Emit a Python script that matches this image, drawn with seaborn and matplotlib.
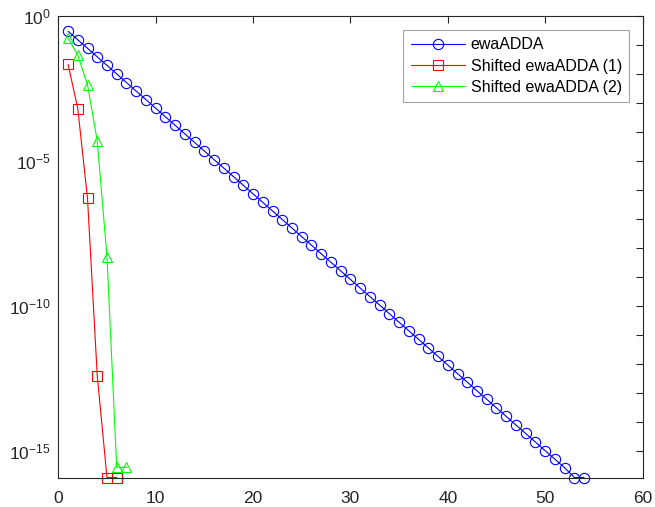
import matplotlib
matplotlib.use("Agg")
import matplotlib.pyplot as plt
import seaborn as sns
import numpy as np
from matplotlib.ticker import FixedLocator, FuncFormatter, NullFormatter

sns.set_theme(style="white")
plt.rcParams['font.family'] = ['Liberation Sans', 'DejaVu Sans']
plt.rcParams['mathtext.fontset'] = 'custom'
plt.rcParams['mathtext.rm'] = 'Liberation Sans'
plt.rcParams['mathtext.it'] = 'Liberation Sans'

# ---- data ----
iters_blue = list(range(1, 55))
err_blue = [2.88e-1, 1.46e-1, 7.41e-2, 3.76e-2, 1.91e-2, 9.66e-3, 4.90e-3, 2.48e-3,
            1.26e-3, 6.38e-4, 3.24e-4, 1.64e-4, 8.32e-5, 4.22e-5, 2.14e-5, 1.08e-5,
            5.50e-6, 2.79e-6, 1.41e-6, 7.16e-7, 3.63e-7, 1.84e-7, 9.33e-8, 4.73e-8,
            2.40e-8, 1.22e-8, 6.17e-9, 3.13e-9, 1.58e-9, 8.04e-10, 4.07e-10, 2.07e-10,
            1.05e-10, 5.31e-11, 2.69e-11, 1.36e-11, 6.92e-12, 3.51e-12, 1.78e-12,
            9.02e-13, 4.57e-13, 2.32e-13, 1.17e-13, 5.96e-14, 3.02e-14, 1.53e-14,
            7.76e-15, 3.94e-15, 2.00e-15, 1.01e-15, 5.13e-16, 2.60e-16, 1.2e-16, 1.2e-16]
iters_red = [1, 2, 3, 4, 5, 6]
err_red = [2.1e-2, 6.2e-4, 5.0e-7, 3.9e-13, 1.2e-16, 1.2e-16]
iters_green = [1, 2, 3, 4, 5, 6, 7]
err_green = [1.66e-1, 4.3e-2, 4.1e-3, 4.8e-5, 4.9e-9, 2.7e-16, 2.7e-16]

labels = ["ewaADDA", "Shifted ewaADDA (1)", "Shifted ewaADDA (2)"]
x_ticks = [0, 10, 20, 30, 40, 50, 60]
y_ticks = [1e-15, 1e-10, 1e-5, 1e0]

fig = plt.figure(figsize=(6.55, 5.07), dpi=100)
ax = fig.add_axes([58.3/655, 1-477.5/507, (642.5-58.3)/655, (477.5-15.5)/507])

series = [
    (iters_blue, err_blue, (0, 0, 1), 'o', 7.4),
    (iters_red, err_red, (1, 0, 0), 's', 6.5),
    (iters_green, err_green, (0, 1, 0), '^', 7.8),
]
for (xs, ys, col, mk, ms), lab in zip(series, labels):
    sns.lineplot(x=xs, y=ys, ax=ax, color=col, marker=mk, markersize=ms,
                 markerfacecolor='none', markeredgecolor=col, markeredgewidth=0.8,
                 linewidth=0.8, label=lab, clip_on=False, sort=False, estimator=None)

ax.set_yscale('log')
ax.set_xlim(0, 60)
ax.set_ylim(1.2e-16, 1.0)
ax.xaxis.set_major_locator(FixedLocator(x_ticks))
ax.yaxis.set_major_locator(FixedLocator(y_ticks))
ax.yaxis.set_minor_locator(FixedLocator([10.0**(-k) for k in range(0, 17)]))
ax.yaxis.set_minor_formatter(NullFormatter())

def yfmt(v, pos):
    e = int(round(np.log10(v)))
    return r'$\mathregular{10^{%d}}$' % e
ax.yaxis.set_major_formatter(FuncFormatter(yfmt))

tickc = '#262626'
for s in ax.spines.values():
    s.set_visible(True)
    s.set_color(tickc)
    s.set_linewidth(0.8)
ax.tick_params(axis='both', which='both', direction='in', top=True, right=True,
               color=tickc, labelcolor=tickc, width=0.8)
ax.tick_params(axis='x', labelsize=12.5, pad=10)
ax.tick_params(axis='y', labelsize=12.5, pad=5.5)
ax.tick_params(axis='both', which='major', length=5)
ax.tick_params(axis='y', which='minor', length=5)
ax.set_xlabel('')
ax.set_ylabel('')

leg = ax.legend(loc='upper right', bbox_to_anchor=(629/655, 1-30/507),
                bbox_transform=fig.transFigure, borderaxespad=0, fontsize=11.5,
                frameon=True, fancybox=False, edgecolor='#8c8c8c',
                handlelength=3.4, handletextpad=0.35, labelspacing=0.4,
                borderpad=0.45)
leg.get_frame().set_linewidth(0.8)
for t in leg.get_texts():
    t.set_color('#000000')

fig.savefig('out.png', dpi=100)
